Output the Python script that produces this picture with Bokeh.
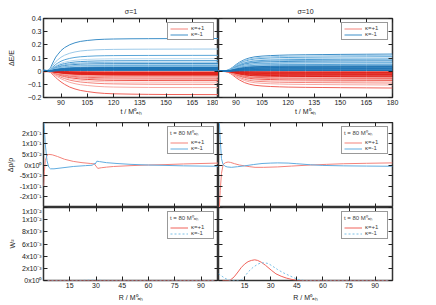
import numpy as np
from bokeh.plotting import figure
from bokeh.models import Range1d, LinearAxis, FixedTicker, Legend, LegendItem
from bokeh.layouts import column, row
from bokeh.embed import file_html
from bokeh.resources import INLINE

# ---------------- data ----------------
# top panels: time grid, normalised growth profiles and final amplitudes
t_grid = [80, 81, 82, 83, 84, 85, 86, 87, 88, 90, 92, 95, 98, 101, 105, 110, 115, 120, 130, 140, 150, 165, 180]
prof_s1_minus = [0.05, 0.03, 0.02, 0.04, 0.1, 0.22, 0.33, 0.43, 0.5, 0.63, 0.72, 0.81, 0.87, 0.91, 0.94, 0.965, 0.978, 0.985, 0.992, 0.995, 0.997, 0.999, 1.0]
prof_s1_plus = [0.04, 0.03, 0.02, 0.03, 0.05, 0.12, 0.2, 0.27, 0.34, 0.46, 0.56, 0.68, 0.76, 0.82, 0.87, 0.92, 0.95, 0.965, 0.98, 0.99, 0.995, 0.998, 1.0]
prof_s10 = [0.03, 0.02, 0.02, 0.02, 0.03, 0.05, 0.09, 0.15, 0.22, 0.38, 0.52, 0.68, 0.78, 0.84, 0.88, 0.91, 0.93, 0.945, 0.96, 0.97, 0.98, 0.99, 1.0]

amp_s1_plus = [-0.178, -0.125, -0.1, -0.085, -0.072, -0.062, -0.053, -0.046, -0.04, -0.035, -0.031,
               -0.028, -0.025, -0.022, -0.02, -0.017, -0.014, -0.01, -0.006]
amp_s1_minus = [0.248, 0.168, 0.12, 0.095, 0.08, 0.068, 0.058, 0.05, 0.043, 0.037, 0.032, 0.028,
                0.024, 0.021, 0.018, 0.015, 0.012, 0.009, 0.006]
amp_s10_plus = [-0.128, -0.105, -0.09, -0.08, -0.07, -0.062, -0.055, -0.048, -0.042, -0.036, -0.03,
                -0.025, -0.02, -0.015, -0.01, -0.005]
amp_s10_minus = [0.13, 0.12, 0.11, 0.1, 0.092, 0.085, 0.078, 0.07, 0.064, 0.058, 0.052, 0.046, 0.04,
                 0.035, 0.03, 0.025, 0.02, 0.015, 0.01, 0.005]

# middle panels: delta rho / rho at t = 80
R_rho_s1_plus = [0, 0.5, 1, 2, 3, 5, 8, 12, 17, 22, 27, 29, 30, 31, 33, 36, 40, 50, 60, 70, 80, 90, 100]
rho_s1_plus = [-0.1, -0.03, 0.02, 0.045, 0.05, 0.048, 0.04, 0.027, 0.017, 0.011, 0.007, 0.005, -0.005,
               -0.016, -0.013, -0.01, -0.007, -0.003, 0.0, 0.002, 0.005, 0.007, 0.009]
R_rho_s1_minus = [0, 0.5, 1, 2, 3, 4, 6, 10, 17, 24, 28, 29, 29.5, 30.5, 32, 36, 42, 50, 60, 70, 80, 90, 100]
rho_s1_minus = [0.25, 0.17, 0.1, 0.02, -0.01, -0.018, -0.018, -0.014, -0.007, -0.003, -0.001, 0.008, 0.004,
                0.018, 0.016, 0.011, 0.007, 0.003, 0.0, -0.002, -0.004, -0.005, -0.006]
R_rho_s10_plus = [0, 0.5, 1, 1.7, 2.7, 4, 5.5, 7, 9.3, 12, 15, 18, 21, 26, 34, 42, 53, 62, 72, 85, 100]
rho_s10_plus = [-0.3, -0.2, -0.12, -0.04, 0.003, 0.011, 0.014, 0.012, 0.006, 0.0, -0.004, -0.008, -0.011,
                -0.011, -0.009, -0.005, 0.0, 0.003, 0.006, 0.008, 0.01]
R_rho_s10_minus = [0, 0.5, 1, 1.7, 2.5, 3.6, 5, 7.4, 11, 15, 20, 25, 30, 34, 40, 45, 53, 60, 72, 85, 100]
rho_s10_minus = [0.3, 0.2, 0.12, 0.03, 0.005, -0.005, -0.009, -0.011, -0.008, -0.004, 0.002, 0.007, 0.009,
                 0.01, 0.009, 0.006, 0.001, -0.002, -0.004, -0.005, -0.006]

# bottom panels: W^2 at t = 80
R_w_s1 = [0, 10, 20, 24, 27, 30, 33, 40, 60, 100]
w_s1_plus = [0, 0, 0, 0, 0, 0, 0, 0, 0, 0]
w_s1_minus = [0, 0, 0, 0.00003, 0.00006, 0.00005, 0.00002, 0, 0, 0]
R_w_s10_plus = [0, 3.6, 6.5, 9, 11.2, 13, 15, 17, 18.9, 20.8, 22.5, 24.6, 27, 30.3, 33, 36, 39, 41.7, 45.5, 50, 100]
w_s10_plus = [0, 0, 0, 0.0006, 0.0014, 0.0021, 0.0027, 0.0031, 0.0033, 0.0034, 0.0033, 0.003, 0.0025,
              0.0017, 0.0011, 0.0007, 0.0004, 0.0002, 0.0, 0, 0]
R_w_s10_minus = [0, 2, 3.6, 5.5, 8, 11, 13, 15, 17, 20, 22.7, 24.5, 26.5, 28.5, 30.3, 34, 37, 40, 43, 45.5, 49, 55, 100]
w_s10_minus = [0.0011, 0.0007, 0.0004, 0.0001, 0, 0, 0.0001, 0.0006, 0.0014, 0.0022, 0.0027, 0.0029, 0.0029,
               0.0028, 0.0025, 0.0018, 0.0013, 0.0009, 0.0005, 0.0002, 0, 0, 0]

# ticks / labels
t_ticks = [90, 105, 120, 135, 150, 165, 180]
dE_ticks = [-0.2, -0.1, 0, 0.1, 0.2, 0.3, 0.4]
R_ticks = [15, 30, 45, 60, 75, 90]
rho_ticks = [-0.15, -0.1, -0.05, 0, 0.05, 0.1, 0.15]
rho_tick_labels = ["-2x10⁻¹", "-1x10⁻¹", "-5x10⁻²", "0x10⁰", "5x10⁻²", "1x10⁻¹", "2x10⁻¹"]
w_ticks = [0, 0.002, 0.004, 0.006, 0.008, 0.010, 0.012]
w_tick_labels = ["0x10⁰", "2x10⁻³", "4x10⁻³", "6x10⁻³", "8x10⁻³", "1x10⁻²", "1x10⁻²"]

titles = ["σ=1", "σ=10"]
kappa_labels = ["κ=+1", "κ=-1"]
legend_title = "t = 80 M⁰ₐₕ"
xlab_t = "t / M⁰ₐₕ"
xlab_R = "R / M⁰ₐₕ"

# ---------------- styling ----------------
FONT = "Liberation Sans"
FS = "7px"
reds_light = ["#f0625a", "#f7a8a2", "#f4847c", "#f9c3be", "#ee5248", "#f59890"]
blues_light = ["#3d8fc8", "#9cc9e8", "#5aa6d8", "#b8d9ef", "#4a9bd2", "#85bde3"]
RED_DARK = "#e0231d"
BLUE_DARK = "#1f74b4"
N_DARK = 8
RED_L = "#f4837b"
BLUE_L = "#62ade0"

LW = 43      # left border of left column
FW_L = 175   # frame width left
FW_R = 174   # frame width right
RB = 44      # right border of right column
FH_TOP, FH_MID, FH_BOT = 79, 85, 73
BT_TOP, BB_TOP, BB_BOT = 18, 25, 25


def style_axis(ax, ticks, labels_on, overrides=None, label=None, label_standoff=1):
    ax.ticker = FixedTicker(ticks=ticks)
    ax.major_tick_in = 4
    ax.major_tick_out = 0
    ax.minor_tick_line_color = None
    ax.axis_line_color = None
    ax.major_tick_line_color = "#222222"
    ax.major_label_text_font = FONT
    if labels_on:
        ax.major_label_text_color = "#222222"
        ax.major_label_text_font_size = FS
        ax.major_label_standoff = 2
    else:
        ax.major_label_text_color = None
        ax.major_label_text_font_size = "0px"
        ax.major_label_standoff = 0
    if overrides:
        ax.major_label_overrides = overrides
    if label is not None:
        ax.axis_label = label
        ax.axis_label_text_font = FONT
        ax.axis_label_text_font_size = FS
        ax.axis_label_text_font_style = "normal"
        ax.axis_label_text_color = "#222222"
        ax.axis_label_standoff = label_standoff


def make_fig(fw, fh, xr, yr, bl, br, bt, bb, xticks, yticks,
             xlabels_on, ylabels_on, xlabel=None, ylabel=None, yover=None,
             xl_standoff=1, yl_standoff=1, title=None):
    p = figure(frame_width=fw, frame_height=fh, x_range=Range1d(*xr), y_range=Range1d(*yr),
               output_backend="svg", toolbar_location=None,
               min_border_left=bl, min_border_right=br, min_border_top=bt, min_border_bottom=bb)
    p.xgrid.visible = False
    p.ygrid.visible = False
    p.outline_line_color = "#333333"
    p.outline_line_width = 1.5
    p.background_fill_color = "white"
    p.border_fill_color = "white"
    style_axis(p.xaxis[0], xticks, xlabels_on, label=xlabel, label_standoff=xl_standoff)
    style_axis(p.yaxis[0], yticks, ylabels_on, overrides=yover, label=ylabel, label_standoff=yl_standoff)
    top = LinearAxis()
    # the mirrored top axis carries the panel title as its label
    style_axis(top, xticks, False, label=title, label_standoff=4)
    p.add_layout(top, "above")
    right = LinearAxis()
    style_axis(right, yticks, False)
    p.add_layout(right, "right")
    return p


def style_legend(leg, title=None):
    leg.location = "top_right"
    leg.label_text_font = FONT
    leg.label_text_font_size = "6px"
    leg.label_height = 5
    leg.glyph_height = 5
    leg.glyph_width = 18
    leg.spacing = 0
    leg.padding = 2
    leg.margin = 4
    leg.label_standoff = 3
    leg.border_line_color = "#333333"
    leg.border_line_width = 1
    leg.background_fill_alpha = 1
    if title is not None:
        leg.title = title
        leg.title_text_font = FONT
        leg.title_text_font_size = "6px"
        leg.title_text_font_style = "normal"
        leg.title_standoff = 2


# ---------------- top row ----------------
def top_panel(left, amps_plus, prof_plus, amps_minus, prof_minus, title):
    if left:
        p = make_fig(FW_L, FH_TOP, (80, 180), (-0.2, 0.4), LW, 0, BT_TOP, BB_TOP, t_ticks, dE_ticks,
                     True, True, xlabel=xlab_t, ylabel="ΔE/E", xl_standoff=0, yl_standoff=10, title=title)
    else:
        p = make_fig(FW_R, FH_TOP, (80, 180), (-0.2, 0.4), 0, RB, BT_TOP, BB_TOP, t_ticks, dE_ticks,
                     True, False, xlabel=xlab_t, xl_standoff=0, title=title)
    pp = np.array(prof_plus)
    pm = np.array(prof_minus)
    r_plus = None
    r_minus = None
    n = len(amps_plus)
    for i, a in enumerate(amps_plus):
        c = RED_DARK if i >= n - N_DARK else reds_light[i % len(reds_light)]
        r = p.line(t_grid, a * pp, line_color=c, line_width=1)
        if i == 2:
            r_plus = r
    n = len(amps_minus)
    for i, a in enumerate(amps_minus):
        c = BLUE_DARK if i >= n - N_DARK else blues_light[i % len(blues_light)]
        r = p.line(t_grid, a * pm, line_color=c, line_width=1)
        if i == 0:
            r_minus = r
    leg = Legend(items=[LegendItem(label=kappa_labels[0], renderers=[r_plus]),
                        LegendItem(label=kappa_labels[1], renderers=[r_minus])])
    style_legend(leg)
    p.add_layout(leg)
    return p


p11 = top_panel(True, amp_s1_plus, prof_s1_plus, amp_s1_minus, prof_s1_minus, titles[0])
p12 = top_panel(False, amp_s10_plus, prof_s10, amp_s10_minus, prof_s10, titles[1])

# ---------------- middle row ----------------
rho_over = {v: s for v, s in zip(rho_ticks, rho_tick_labels)}
rho_all_ticks = [-0.2] + rho_ticks + [0.2]
rho_over[-0.2] = ""
rho_over[0.2] = ""

p21 = make_fig(FW_L, FH_MID, (0, 100), (-0.2, 0.2), LW, 0, 0, 0, R_ticks, rho_all_ticks,
               False, True, ylabel="Δρ/ρ", yover=rho_over, yl_standoff=3)
p22 = make_fig(FW_R, FH_MID, (0, 100), (-0.2, 0.2), 0, RB, 0, 0, R_ticks, rho_all_ticks,
               False, False)
for p, (Rp, vp, Rm, vm) in [(p21, (R_rho_s1_plus, rho_s1_plus, R_rho_s1_minus, rho_s1_minus)),
                           (p22, (R_rho_s10_plus, rho_s10_plus, R_rho_s10_minus, rho_s10_minus))]:
    a = p.line(Rp, vp, line_color=RED_L, line_width=1)
    b = p.line(Rm, vm, line_color=BLUE_L, line_width=1)
    leg = Legend(items=[LegendItem(label=kappa_labels[0], renderers=[a]),
                        LegendItem(label=kappa_labels[1], renderers=[b])])
    style_legend(leg, title=legend_title)
    p.add_layout(leg)

# ---------------- bottom row ----------------
w_over = {v: s for v, s in zip(w_ticks, w_tick_labels)}
p31 = make_fig(FW_L, FH_BOT, (0, 100), (0, 0.012), LW, 0, 0, BB_BOT, R_ticks, w_ticks,
               True, True, xlabel=xlab_R, ylabel="W²", yover=w_over, xl_standoff=3, yl_standoff=3)
p32 = make_fig(FW_R, FH_BOT, (0, 100), (0, 0.012), 0, RB, 0, BB_BOT, R_ticks, w_ticks,
               True, False, xlabel=xlab_R, xl_standoff=3)
for p, (Rp, vp, Rm, vm) in [(p31, (R_w_s1, w_s1_plus, R_w_s1, w_s1_minus)),
                           (p32, (R_w_s10_plus, w_s10_plus, R_w_s10_minus, w_s10_minus))]:
    a = p.line(Rp, vp, line_color="#f0625a", line_width=1)
    b = p.line(Rm, vm, line_color="#7cc0e6", line_width=1, line_dash="2 2")
    leg = Legend(items=[LegendItem(label=kappa_labels[0], renderers=[a]),
                        LegendItem(label=kappa_labels[1], renderers=[b])])
    style_legend(leg, title=legend_title)
    p.add_layout(leg)

layout = column(row(p11, p12), row(p21, p22), row(p31, p32))
open("out.html", "w").write(file_html(layout, INLINE))
